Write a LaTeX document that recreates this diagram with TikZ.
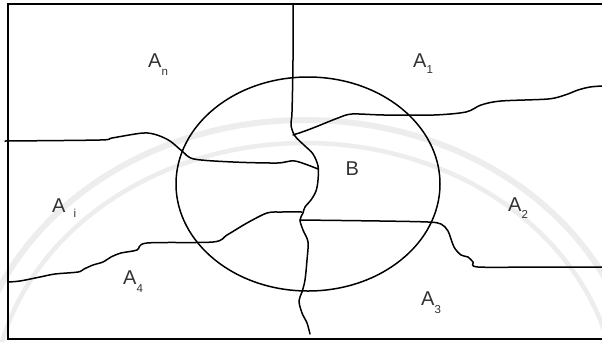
\documentclass[tikz,border=0pt]{standalone}
\usepackage{fontspec}
\setmainfont{Liberation Sans}
\begin{document}
\begin{tikzpicture}[x=1pt,y=-1pt,
  frame/.style={line width=2pt},
  border/.style={line width=1.5pt, line join=round, line cap=round},
  faint/.style={line width=6pt, black!7},
  region/.style={anchor=base west, inner sep=0pt, text=black!80,
                 font=\fontsize{20}{22}\selectfont},
]
\newcommand{\subidx}[2]{\raisebox{-#1pt}{\fontsize{11.5}{12}\selectfont #2}}
\useasboundingbox (0,0) rectangle (602,341);
\fill[white] (0,0) rectangle (602,341);

% pale seal in the background
\begin{scope}
  \clip (0,0) rectangle (602,341);
  \draw[faint] (305,405) ellipse [x radius=335, y radius=285];
  \draw[faint, line width=4.5pt] (305,405) ellipse [x radius=312, y radius=262];
\end{scope}

% outer frame (open on the right)
\draw[frame] (602,4) -- (8,4) -- (8,339) -- (602,339);

% the set B
\draw[border] (308,184) ellipse [x radius=132, y radius=107];

% junction points of the boundaries
\coordinate (top)   at (293,4);
\coordinate (jn)    at (293,135);
\coordinate (jw)    at (318,169);
\coordinate (jsw)   at (302,212);
\coordinate (je)    at (300,220);
\coordinate (bot)   at (310,334);
\coordinate (wend)  at (5,141);
\coordinate (eend)  at (602,86);
\coordinate (e2end) at (602,267);
\coordinate (w4end) at (8,282);

% central north--south boundary
\draw[border] plot[smooth, tension=0.55] coordinates {
  (top) (293,60) (292,112) (291,125) (295,136) (305,146) (313,154)
  (318,166) (318,180) (316,191) (311,200) (305,207) (303,213)
  (je) (303,230) (308,242) (307,260) (305,280) (302,292) (299,301)
  (302,313) (307,323) (bot)};

% A_n / A_i boundary
\draw[border] plot[smooth, tension=0.5] coordinates {
  (wend) (100,140) (112,138) (143,133) (157,135) (170,141) (182,151)
  (194,159) (233,162) (277,163) (295,161) (jw)};

% A_n / A_1 boundary towards A_2
\draw[border] plot[smooth, tension=0.5] coordinates {
  (jn) (305,131) (318,126) (338,118) (352,114) (384,115) (434,115)
  (466,112) (481,105) (501,101) (548,99) (565,95) (578,90) (590,87) (eend)};

% A_2 / A_3 boundary
\draw[border] plot[smooth, tension=0.5] coordinates {
  (je) (380,221) (428,222) (441,224) (448,231) (454,247) (461,255)
  (468,257) (473,262) (478,267) (540,267) (e2end)};

% A_i / A_4 boundary
\draw[border] plot[smooth, tension=0.5] coordinates {
  (w4end) (20,281) (40,277) (55,274) (78,272) (84,269) (93,265)
  (103,262) (111,257) (121,253) (137,250) (147,243) (213,242)
  (227,235) (247,223) (267,213) (282,212) (jsw)};

% region names
\node[region] (an) at (148,67)  {A\subidx{8}{n}};
\node[region] (a1) at (413,67)  {A\subidx{6}{1}};
\node[region] (b)  at (345.5,175) {B};
\node[region] (ai) at (52,212)  {A\hspace{8pt}\subidx{5}{i}};
\node[region] (a4) at (123,284) {A\subidx{8}{4}};
\node[region] (a2) at (508,211) {A\subidx{7}{2}};
\node[region] (a3) at (421,305) {A\subidx{8}{3}};
\end{tikzpicture}
\end{document}
